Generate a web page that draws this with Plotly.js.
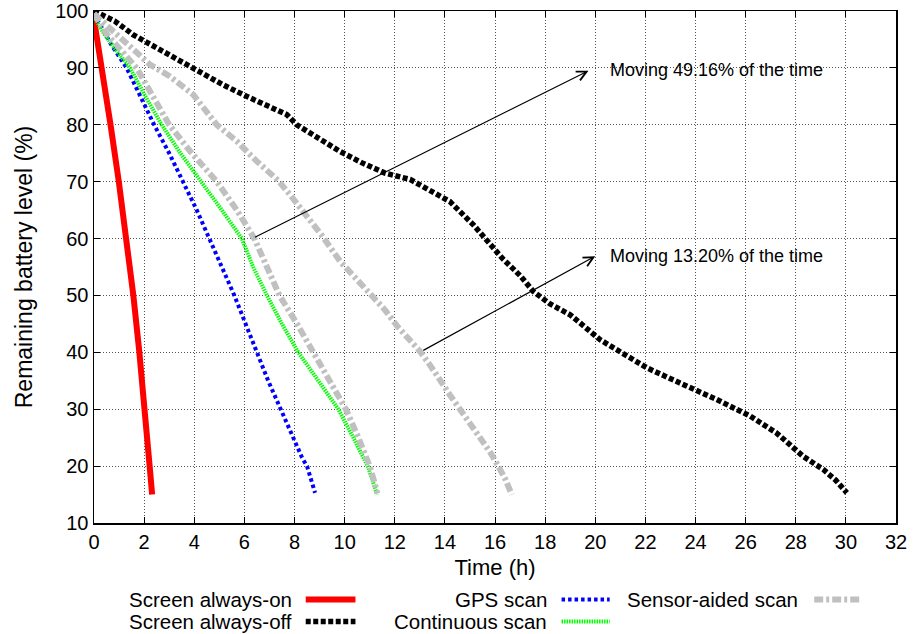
<!DOCTYPE html>
<html>
<head>
<meta charset="utf-8">
<script src="https://cdn.plot.ly/plotly-3.0.1.min.js"></script>
<style>html,body{margin:0;padding:0;background:#fff;}#chart{width:914px;height:634px;}</style>
</head>
<body>
<div id="chart"></div>
<script>
// ---- data (hours, remaining battery %) ----
const onX  = [0, 0.33, 0.66, 0.99, 1.3, 1.57, 1.81, 2.04, 2.22, 2.32];
const onY  = [98.5, 90, 80, 70, 60, 50, 40, 30, 20, 15];

const offX = [0, 0.4, 0.84, 1.57, 2.63, 3.83, 5.16, 6.09, 6.9, 7.69, 8.09, 8.9, 9.82, 10.7, 11.61, 12.61, 13.4, 14.2, 15.14, 15.7, 16.3, 17.0, 17.53, 18.2, 19.0, 20.2, 21.1, 22.05, 23.38, 24.85, 26.18, 27.24, 28.3, 29.1, 29.6, 30.04];
const offY = [100, 99.2, 98.2, 95.8, 93.2, 90.3, 87, 85, 83.5, 81.8, 80, 77.8, 75.3, 73.3, 71.5, 70.4, 68.5, 66.5, 62.4, 59.5, 56.5, 53.5, 50.7, 48.5, 46.6, 42.2, 39.8, 37.3, 34.6, 31.7, 28.8, 25.8, 21.7, 19.4, 17.5, 15.3];

const gpsX = [0, 0.3, 0.7, 1.3, 1.85, 2.4, 3.0, 3.55, 4.1, 4.6, 5.1, 5.6, 6.05, 6.5, 6.95, 7.45, 7.95, 8.3, 8.5, 8.65, 8.82];
const gpsY = [99.5, 97, 94, 90, 85, 80, 75, 70, 65, 60, 55, 50, 45, 40, 35, 30, 25, 21.5, 20, 17.5, 15.3];

const contX = [0, 0.4, 0.9, 1.44, 2.05, 2.7, 3.45, 4.3, 5.1, 5.9, 6.35, 6.9, 7.5, 8.15, 8.95, 9.75, 10.35, 10.92, 11.3];
const contY = [99, 96, 93, 90, 85, 80, 75, 70, 65, 60, 55, 50, 45, 40, 35, 30, 25, 20, 15];

const sens49X = [0, 0.5, 1.1, 1.7, 2.35, 3.0, 3.9, 4.9, 5.7, 6.4, 6.9, 7.4, 8.1, 8.75, 9.4, 10.05, 10.55, 11.0, 11.2, 11.3];
const sens49Y = [99.5, 96, 93, 90, 85, 80, 75, 70, 65, 60, 55, 50, 45, 40, 35, 30, 25, 20, 17, 15.2];

const sens13X = [0, 0.5, 1.0, 1.57, 2.23, 3.03, 3.96, 4.9, 5.7, 6.49, 7.35, 7.82, 8.35, 9.1, 9.82, 10.45, 11.08, 11.6, 12.1, 12.55, 13.0, 13.4, 13.8, 14.2, 14.6, 15.0, 15.4, 15.8, 16.13, 16.4, 16.67];
const sens13Y = [99.5, 97.5, 95.5, 93.5, 90.6, 88.5, 85.3, 80, 77.1, 73.6, 70.2, 67.7, 64.8, 60.5, 56, 53, 50, 47.5, 44.6, 42.5, 40.2, 37.8, 35, 32.5, 30, 27.5, 25.2, 22.5, 20, 17.8, 15];

const xTicks = [0, 2, 4, 6, 8, 10, 12, 14, 16, 18, 20, 22, 24, 26, 28, 30, 32];
const yTicks = [10, 20, 30, 40, 50, 60, 70, 80, 90, 100];

const seriesNames = ['Screen always-on', 'Screen always-off', 'GPS scan', 'Continuous scan', 'Sensor-aided scan'];
const note49 = 'Moving 49.16% of the time';
const note13 = 'Moving 13.20% of the time';

// ---- styles ----
const FONT = 'Liberation Sans, Arial, Helvetica, sans-serif';
const sty = {
  on:   {color: '#ff0000', width: 6, dash: 'solid'},
  off:  {color: '#000000', width: 5.5, dash: '5px,2.5px'},
  gps:  {color: '#0000ff', width: 4, dash: '3.5px,3px'},
  cont: {color: '#00ff00', width: 4, dash: '1.5px,1px'},
  sens: {color: '#c0c0c0', width: 6, dash: '9px,3px,3px,3px'}
};

const traces = [
  {x: onX, y: onY, name: seriesNames[0], mode: 'lines', line: sty.on},
  {x: offX, y: offY, name: seriesNames[1], mode: 'lines', line: sty.off},
  {x: gpsX, y: gpsY, name: seriesNames[2], mode: 'lines', line: sty.gps},
  {x: contX, y: contY, name: seriesNames[3], mode: 'lines', line: sty.cont},
  {x: sens49X, y: sens49Y, name: seriesNames[4], mode: 'lines', line: sty.sens},
  {x: sens13X, y: sens13Y, name: seriesNames[4], mode: 'lines', line: sty.sens}
];

// ---- custom legend (text left of sample, gnuplot style) ----
const legRows = [-0.1494, -0.1923];
const legend = [
  {name: seriesNames[0], s: sty.on,   tx: 0.249, x0: 0.264, x1: 0.326, row: 0},
  {name: seriesNames[1], s: sty.off,  tx: 0.249, x0: 0.264, x1: 0.326, row: 1},
  {name: seriesNames[2], s: sty.gps,  tx: 0.567, x0: 0.583, x1: 0.643, row: 0},
  {name: seriesNames[3], s: sty.cont, tx: 0.567, x0: 0.583, x1: 0.643, row: 1},
  {name: seriesNames[4], s: sty.sens, tx: 0.880, x0: 0.898, x1: 0.956, row: 0}
];
const shapes = legend.map(l => ({
  type: 'line', xref: 'paper', yref: 'paper',
  x0: l.x0, x1: l.x1, y0: legRows[l.row], y1: legRows[l.row],
  line: {color: l.s.color, width: l.s.width, dash: l.s.dash}
}));
const annotations = legend.map(l => ({
  xref: 'paper', yref: 'paper', x: l.tx, y: legRows[l.row],
  xanchor: 'right', yanchor: 'middle', showarrow: false,
  text: l.name, font: {family: FONT, size: 20.5, color: '#000'}
}));

// arrows + notes
annotations.push(
  {x: 19.73, y: 89.5, ax: 6.36, ay: 60.1, xref: 'x', yref: 'y', axref: 'x', ayref: 'y',
   text: '', showarrow: true, arrowhead: 5, arrowsize: 1.6, arrowwidth: 1.2, arrowcolor: '#000'},
  {x: 20.5, y: 89.7, xref: 'x', yref: 'y', xanchor: 'left', yanchor: 'middle', showarrow: false,
   text: note49, font: {family: FONT, size: 18, color: '#000'}},
  {x: 20.0, y: 56.9, ax: 13.08, ay: 40.2, xref: 'x', yref: 'y', axref: 'x', ayref: 'y',
   text: '', showarrow: true, arrowhead: 5, arrowsize: 1.6, arrowwidth: 1.2, arrowcolor: '#000'},
  {x: 20.5, y: 56.9, xref: 'x', yref: 'y', xanchor: 'left', yanchor: 'middle', showarrow: false,
   text: note13, font: {family: FONT, size: 18, color: '#000'}}
);

const axisCommon = {
  showline: true, linecolor: '#000', linewidth: 1.5, mirror: 'ticks',
  ticks: 'inside', ticklen: 6, tickcolor: '#000', tickwidth: 1,
  showgrid: true, gridcolor: '#555', griddash: '1px,2px', gridwidth: 1,
  zeroline: false, tickfont: {family: FONT, size: 20, color: '#000'}
};

const layout = {
  width: 914, height: 634,
  margin: {l: 94, r: 18, t: 11, b: 110.5},
  paper_bgcolor: '#fff', plot_bgcolor: '#fff',
  showlegend: false,
  xaxis: Object.assign({}, axisCommon, {
    range: [0, 32], tickvals: xTicks, ticktext: xTicks.map(String),
    title: {text: 'Time (h)', standoff: 8, font: {family: FONT, size: 22, color: '#000'}}
  }),
  yaxis: Object.assign({}, axisCommon, {
    range: [10, 100], tickvals: yTicks, ticktext: yTicks.map(String),
    title: {text: 'Remaining battery level (%)', standoff: 16, font: {family: FONT, size: 23, color: '#000'}}
  }),
  shapes: shapes,
  annotations: annotations
};

Plotly.newPlot('chart', traces, layout, {staticPlot: true, displayModeBar: false});
</script>
</body>
</html>
